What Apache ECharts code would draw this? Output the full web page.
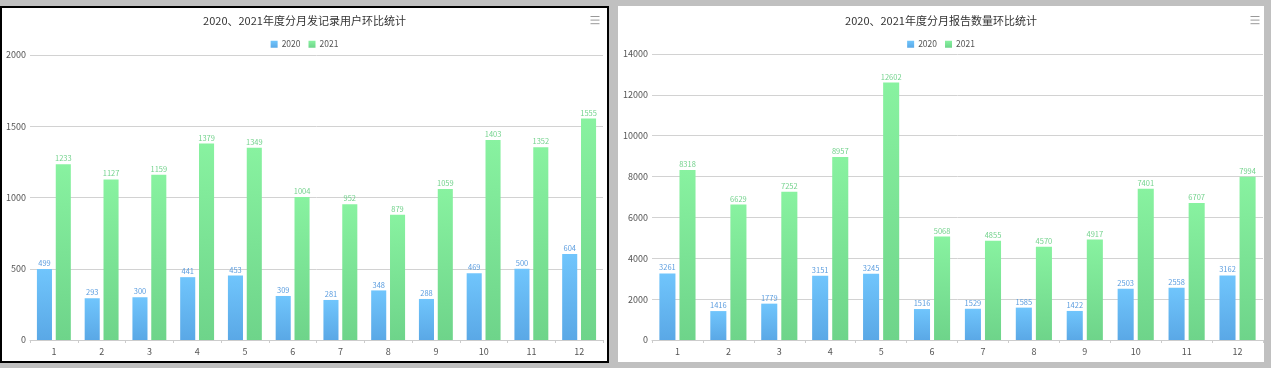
<!DOCTYPE html>
<html>
<head>
<meta charset="utf-8">
<script src="https://cdn.jsdelivr.net/npm/echarts@6/dist/echarts.min.js"></script>
<style>
  html, body { margin: 0; padding: 0; background: #c0c0c0; width: 1271px; height: 368px; overflow: hidden; }
  #c1 { position: absolute; left: 0; top: 6px; width: 609px; height: 357px; box-sizing: border-box; border: 2px solid #000; background: #fff; }
  #c2 { position: absolute; left: 618px; top: 6px; width: 646px; height: 356px; background: #fff; }
  #c1 > div, #c2 > div { width: 100%; height: 100%; }
</style>
</head>
<body>
<div id="c1"><div id="chart1"></div></div>
<div id="c2"><div id="chart2"></div></div>
<script>
const months = ['1','2','3','4','5','6','7','8','9','10','11','12'];
const seriesNames = ['2020','2021'];
const title1 = '2020、2021年度分月发记录用户环比统计';
const title2 = '2020、2021年度分月报告数量环比统计';
const users2020 = [499, 293, 300, 441, 453, 309, 281, 348, 288, 469, 500, 604];
const users2021 = [1233, 1127, 1159, 1379, 1349, 1004, 952, 879, 1059, 1403, 1352, 1555];
const reports2020 = [3261, 1416, 1779, 3151, 3245, 1516, 1529, 1585, 1422, 2503, 2558, 3162];
const reports2021 = [8318, 6629, 7252, 8957, 12602, 5068, 4855, 4570, 4917, 7401, 6707, 7994];

const FONT = "'Noto Sans CJK SC', 'Noto Sans', sans-serif";
function grad(a, b) {
  return new echarts.graphic.LinearGradient(0, 0, 0, 1, [{offset: 0, color: a}, {offset: 1, color: b}]);
}
const blue = () => grad('#70c5fc', '#5aa8e6');
const green = () => grad('#88f2a0', '#6ed48a');

function makeOption(title, d1, d2, maxV, step, grid, tb, top0) {
  return {
    animation: false,
    textStyle: { fontFamily: FONT },
    title: { text: title, left: 'center', top: top0 + 1, padding: 0,
      textStyle: { fontSize: 11, fontWeight: 'normal', color: '#333', fontFamily: FONT } },
    legend: { data: seriesNames, top: top0 + 26, left: 'center', padding: 0, itemWidth: 7, itemHeight: 7, itemGap: 8,
      icon: 'rect', textStyle: { fontSize: 8.5, color: '#555', fontFamily: FONT, padding: [0, 0, 0, -1] } },
    toolbox: { show: true, right: tb.right, top: tb.top, padding: 0, itemSize: 9,
      iconStyle: { borderColor: '#999', borderWidth: 1 },
      feature: { myMenu: { show: true, title: '菜单', icon: 'path://M0,1H10M0,5H10M0,9H10', onclick: function(){} } } },
    grid: grid,
    xAxis: { type: 'category', data: months,
      axisLine: { lineStyle: { color: '#ccc' } },
      axisTick: { show: true, length: 3, lineStyle: { color: '#ccc' } },
      axisLabel: { fontSize: 9, color: '#555', margin: 7, fontFamily: FONT } },
    yAxis: { type: 'value', min: 0, max: maxV, interval: step,
      axisLine: { show: false }, axisTick: { show: false },
      axisLabel: { fontSize: 9, color: '#555', margin: 4, fontFamily: FONT, formatter: v => String(v) },
      splitLine: { lineStyle: { color: '#d2d2d2' } } },
    series: [
      { name: seriesNames[0], type: 'bar', data: d1, barGap: '25%', barCategoryGap: '29%',
        itemStyle: { color: blue() },
        label: { show: true, position: 'top', distance: 2, fontSize: 7.5, color: '#5b9ddf', fontFamily: FONT } },
      { name: seriesNames[1], type: 'bar', data: d2, barGap: '25%', barCategoryGap: '29%',
        itemStyle: { color: green() },
        label: { show: true, position: 'top', distance: 2, fontSize: 7.5, color: '#72d28c', fontFamily: FONT } }
    ]
  };
}

const ch1 = echarts.init(document.getElementById('chart1'));
ch1.setOption(makeOption(title1, users2020, users2021, 2000, 500,
  { left: 28, right: 4, top: 47, bottom: 21 }, { right: 5, top: 6 }, 6));
const ch2 = echarts.init(document.getElementById('chart2'));
ch2.setOption(makeOption(title2, reports2020, reports2021, 14000, 2000,
  { left: 34, right: 1, top: 48, bottom: 22 }, { right: 2, top: 8 }, 8));
</script>
</body>
</html>
